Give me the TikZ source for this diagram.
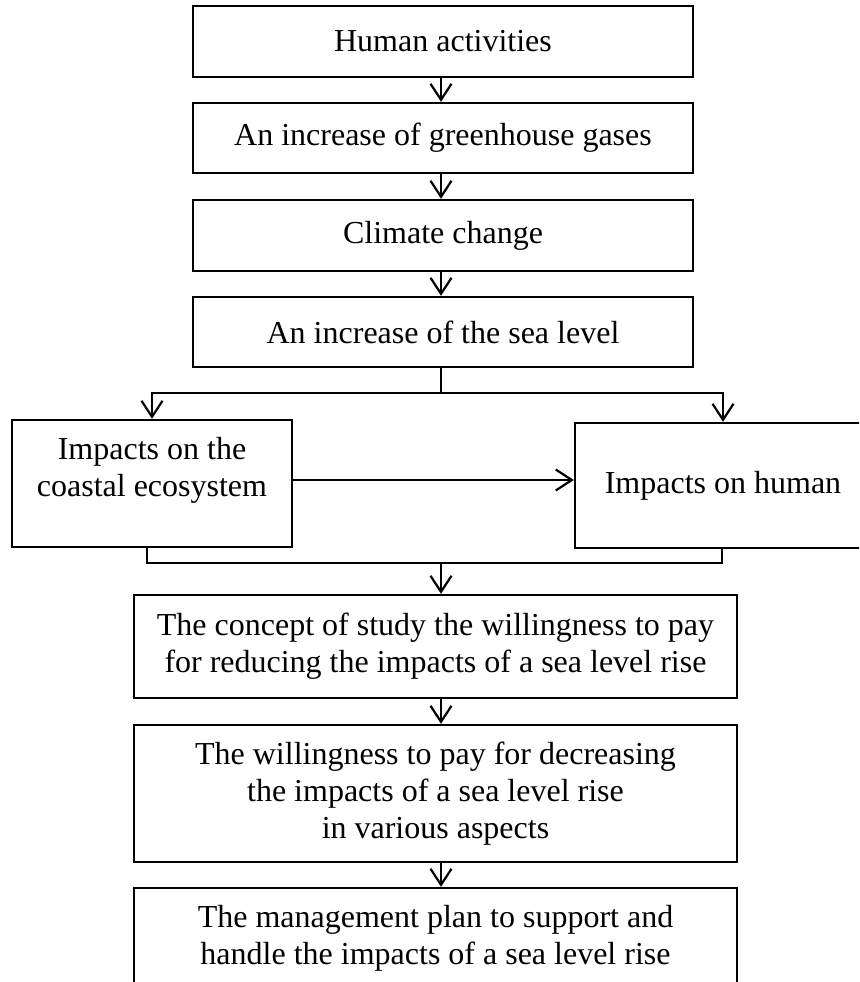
\documentclass[tikz,border=0pt]{standalone}
\usepackage{fontspec}
\setmainfont{Liberation Serif}
\usetikzlibrary{arrows.meta}
\begin{document}
\begin{tikzpicture}[x=1pt,y=-1pt,
  box/.style={draw, line width=2.4pt, rectangle, inner sep=0pt, align=center,
    font=\fontsize{32}{37}\selectfont},
  txt/.style={inner sep=0pt, align=center, font=\fontsize{32}{37}\selectfont},
  conn/.style={line width=2.2pt},
  arr/.style={line width=2.2pt, -{Straight Barb[length=16pt,width=21pt,line width=2.2pt]}}]
\useasboundingbox (0,0) rectangle (859,982);
\begin{scope}
\clip (0,0) rectangle (859,982);
% top chain
\node[box, minimum width=500pt, minimum height=71pt] (b1) at (443,41.5) {Human activities};
\node[box, minimum width=500pt, minimum height=70pt] (b2) at (443,138) {An increase of greenhouse gases};
\node[box, minimum width=500pt, minimum height=71pt] (b3) at (443,235.5) {Climate change};
\node[box, minimum width=500pt, minimum height=70pt] (b4) at (443,332) {An increase of the sea level};
% side boxes
\node[box, minimum width=280pt, minimum height=127pt] (L) at (152,483.5) {};
\node[txt] (Lt) at (152,470) {Impacts on the\\coastal ecosystem};
\node[box, minimum width=296pt, minimum height=125pt] (R) at (723,485.5) {Impacts on human};
% bottom chain
\node[box, minimum width=603pt, minimum height=103pt] (b5) at (435.5,646.5) {The concept of study the willingness to pay\\for reducing the impacts of a sea level rise};
\node[box, minimum width=603pt, minimum height=137pt] (b6) at (435.5,793.5) {The willingness to pay for decreasing\\the impacts of a sea level rise\\in various aspects};
\node[box, minimum width=603pt, minimum height=100pt] (b7) at (435.5,938) {The management plan to support and\\handle the impacts of a sea level rise};
\end{scope}
\coordinate (ax) at (441,0);
\coordinate (sp) at (441,393);
\coordinate (mg) at (441,563);
\coordinate (hz) at (0,480);
% connectors
\draw[arr] (b1.south -| ax) -- (b2.north -| ax);
\draw[arr] (b2.south -| ax) -- (b3.north -| ax);
\draw[arr] (b3.south -| ax) -- (b4.north -| ax);
\draw[conn] (b4.south -| ax) -- (sp);
\draw[arr] (sp) -| (L.north);
\draw[arr] (sp) -| (R.north);
\draw[arr] (L.east |- hz) -- (R.west |- hz);
\draw[conn] ([xshift=-5pt]L.south) |- (mg) -| ([xshift=-1pt]R.south);
\draw[arr] (mg) -- (b5.north -| mg);
\draw[arr] (b5.south -| ax) -- (b6.north -| ax);
\draw[arr] (b6.south -| ax) -- (b7.north -| ax);
\end{tikzpicture}
\end{document}
